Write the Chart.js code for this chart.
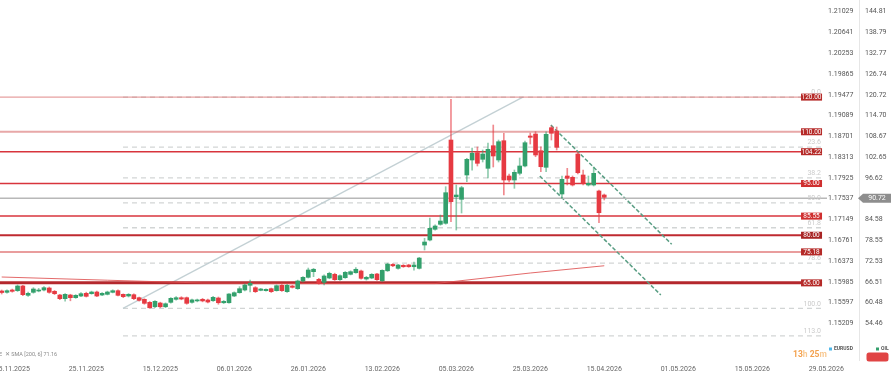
<!DOCTYPE html>
<html>
<head>
<meta charset="utf-8">
<script src="https://cdn.jsdelivr.net/npm/chart.js@4.4.1/dist/chart.umd.min.js"></script>
<style>
  html, body { margin: 0; padding: 0; background: #fff; }
  canvas { display: block; }
</style>
</head>
<body>
<canvas id="grafico-oil" width="896" height="380"></canvas>
<script>
// dados OIL (velas diarias)
const opens = [63.84, 63.46, 64.13, 63.93, 65.29, 62.59, 63.46, 63.84, 64.13, 64.71,
  63.75, 62.68, 61.61, 62.68, 61.90, 62.39, 63.17, 63.06, 63.55, 62.68,
  62.88, 63.46, 63.93, 62.88, 62.39, 62.77, 61.90, 61.43, 60.56, 59.28,
  60.36, 59.28, 60.56, 61.43, 61.90, 61.90, 60.56, 60.97, 61.43, 61.23,
  61.03, 61.81, 60.44, 60.44, 62.39, 63.35, 64.13, 65.49, 64.80, 64.04,
  63.93, 64.51, 63.93, 65.49, 63.64, 65.29, 64.51, 66.74, 67.81, 69.44,
  67.23, 66.36, 67.61, 68.68, 67.12, 67.70, 68.68, 69.14, 69.64, 67.32,
  67.61, 68.77, 66.82, 69.70, 71.55, 70.41, 71.29, 71.38, 70.88, 70.41,
  77.17, 78.62, 81.73, 83.17, 83.47, 107.61, 91.18, 90.42, 97.47, 101.82,
  103.93, 102.02, 99.41, 105.96, 101.82, 107.41, 97.18, 96.02, 97.96, 100.08,
  108.77, 109.35, 104.51, 99.70, 111.18, 110.22, 91.96, 97.18, 96.80, 103.56,
  97.47, 94.57, 94.57, 92.83, 91.67];
const highs = [64.13, 64.2, 64.4, 65.6, 65.5, 63.5, 64.8, 64.6, 65.1, 65.0,
  64.0, 62.9, 63.1, 62.9, 62.8, 63.4, 63.5, 63.8, 63.8, 63.4,
  63.8, 64.2, 64.2, 63.0, 63.1, 63.0, 62.1, 61.6, 60.8, 61.1,
  60.6, 60.4, 61.9, 62.2, 62.2, 62.1, 61.5, 61.5, 61.7, 61.5,
  62.3, 62.1, 61.1, 63.1, 63.6, 65.1, 65.9, 67.0, 65.1, 64.6,
  64.5, 64.7, 65.6, 65.7, 65.8, 65.5, 67.0, 68.0, 70.5, 70.4,
  67.5, 68.5, 69.3, 69.0, 68.5, 69.5, 69.7, 70.6, 69.9, 68.1,
  68.9, 69.0, 70.0, 71.9, 71.8, 71.6, 71.5, 71.6, 72.2, 73.6,
  79.12, 85.00, 83.0, 85.87, 94.08, 119.41, 94.57, 94.2, 102.3, 105.3,
  105.59, 104.72, 106.74, 111.96, 107.61, 109.56, 97.76, 98.92, 102.40, 107.32,
  109.64, 110.02, 105.67, 110.02, 111.67, 111.38, 97.18, 99.41, 97.18, 104.14,
  98.92, 97.18, 99.79, 93.12, 91.96];
const lows = [62.97, 63.2, 63.5, 63.7, 62.5, 62.3, 63.2, 63.6, 63.9, 63.2,
  62.8, 61.3, 60.9, 61.0, 61.7, 62.2, 62.1, 62.9, 62.2, 62.5,
  62.7, 63.3, 62.4, 61.9, 62.1, 61.3, 60.9, 60.0, 58.8, 59.0,
  59.0, 59.0, 60.3, 61.2, 61.3, 60.0, 60.3, 60.7, 60.7, 60.4,
  60.8, 60.0, 60.2, 60.3, 62.2, 63.2, 63.9, 63.6, 63.4, 63.9,
  63.8, 63.4, 63.8, 63.7, 63.4, 64.7, 64.3, 66.5, 67.6, 68.0,
  65.8, 65.6, 67.4, 66.9, 66.9, 67.5, 68.5, 69.0, 67.3, 67.0,
  67.4, 66.9, 66.6, 69.5, 70.9, 70.2, 70.7, 70.7, 69.9, 70.2,
  75.73, 78.33, 81.5, 82.9, 83.2, 83.93, 81.52, 86.45, 95.52, 98.9,
  100.08, 101.24, 96.60, 99.79, 101.24, 91.67, 95.44, 93.61, 97.47, 99.79,
  106.45, 102.77, 98.42, 98.42, 107.61, 104.72, 90.71, 94.57, 94.28, 97.76,
  94.57, 94.28, 94.28, 83.64, 90.22];
const closes = [63.40, 63.93, 63.75, 65.29, 62.77, 63.17, 64.42, 64.13, 64.80, 63.46,
  63.06, 61.61, 62.88, 61.90, 62.59, 63.06, 62.30, 63.55, 62.39, 63.17,
  63.55, 63.93, 62.59, 62.19, 62.88, 61.61, 61.14, 60.27, 58.99, 60.85,
  59.28, 60.15, 61.72, 61.90, 61.52, 60.27, 61.26, 61.26, 60.97, 60.65,
  62.01, 60.44, 60.85, 62.97, 63.35, 64.51, 65.58, 66.07, 63.64, 64.42,
  64.33, 63.64, 65.38, 63.93, 65.49, 64.91, 66.74, 67.81, 69.93, 70.14,
  66.07, 68.19, 68.97, 67.12, 68.28, 69.26, 69.44, 70.14, 67.52, 67.81,
  68.68, 67.12, 69.84, 71.64, 71.15, 71.38, 70.88, 70.88, 71.38, 73.39,
  78.04, 82.01, 82.68, 84.13, 92.34, 89.73, 91.67, 93.79, 102.02, 103.76,
  100.86, 103.56, 104.92, 102.98, 107.12, 96.02, 96.02, 98.25, 100.08, 106.83,
  108.40, 103.27, 99.87, 109.27, 109.56, 105.50, 96.22, 96.51, 94.57, 98.13,
  95.06, 95.06, 97.96, 86.54, 91.00];

// SMA 200
const smaIdx = [0, 20, 38, 60, 82, 100, 114];
const smaVal = [67.90, 66.97, 66.16, 66.0, 66.0, 69.06, 71.16];

// niveis horizontais
const levelValues = [120.05, 110.0, 104.22, 95.0, 85.55, 80.0, 75.18, 66.2];
const levelLabels = ['120.00', '110.00', '104.22', '95.00', '85.55', '80.00', '75.18', '65.00'];

// fibonacci
const fibPrices = [120.05, 105.56, 96.62, 89.4, 82.18, 71.9, 58.8, 50.84];
const fibLabels = ['0.0', '23.6', '38.2', '50.0', '61.8', '78.6', '100.0', '113.0'];
const fibDiag = [[22.95, 58.8], [98.6, 120.05]];

// canal de baixa
const chanUpper = [[103.9, 111.96], [126.76, 77.38]];
const chanLower = [[101.8, 97.18], [124.7, 62.68]];

const lastPrice = 90.72;

// eixos
const dateIdx = [2, 16, 30, 44, 58, 72, 86, 100, 114, 128, 142, 156];
const dateLabels = ['15.11.2025', '25.11.2025', '15.12.2025', '06.01.2026', '26.01.2026', '13.02.2026',
  '05.03.2026', '25.03.2026', '15.04.2026', '01.05.2026', '15.05.2026', '29.05.2026'];
const oilTicks = [144.81, 138.79, 132.77, 126.74, 120.72, 114.70, 108.67, 102.65, 96.62, 90.60,
  84.58, 78.55, 72.53, 66.51, 60.48, 54.46];
const eurTicks = ['1.21029', '1.20641', '1.20253', '1.19865', '1.19477', '1.19089', '1.18701', '1.18313',
  '1.17925', '1.17537', '1.17149', '1.16761', '1.16373', '1.15985', '1.15597', '1.15209'];

const GREEN = '#33a06c';
const RED = '#e63a42';
const lineEnd = 155.2;   // fim das linhas horizontais (antes da escala)

Chart.defaults.font.family = 'Roboto, "Noto Sans", sans-serif';

const levelColors = ['rgba(214,96,96,0.6)', 'rgba(214,96,96,0.55)', '#d8343c', '#d8343c',
  '#d8343c', '#bf2a30', 'rgba(214,70,70,0.7)', '#b4282d'];
const levelWidths = [1.2, 2, 1.5, 1.5, 1.5, 1.8, 1.5, 3];
const boxColors = ['#b52a28', '#b52a28', '#b52a28', '#cf2f2f', '#cf2f2f', '#a82424', '#b52a28', '#b52a28'];

function seg(points, color, width, dash, order) {
  return {
    type: 'line',
    data: points.map(p => ({x: p[0], y: p[1]})),
    borderColor: color,
    borderWidth: width,
    borderDash: dash || [],
    pointRadius: 0,
    tension: 0,
    order: order
  };
}

const datasets = [];

// velas
const isUp = opens.map((o, i) => closes[i] >= o);
datasets.push({
  type: 'bar',
  data: opens.map((o, i) => ({x: i, y: [o, closes[i]]})),
  backgroundColor: isUp.map(u => u ? GREEN : RED),
  barThickness: 4,
  minBarLength: 1,
  grouped: false,
  order: 0
});
datasets.push({
  type: 'bar',
  data: lows.map((l, i) => ({x: i, y: [l, highs[i]]})),
  backgroundColor: isUp.map(u => u ? 'rgba(51,160,108,0.55)' : 'rgba(230,58,66,0.6)'),
  barThickness: 1,
  grouped: false,
  order: 1
});

// SMA
datasets.push(seg(smaIdx.map((x, i) => [x, smaVal[i]]), 'rgba(222,80,80,0.85)', 1, null, 2));
// preco atual
datasets.push(seg([[-1, lastPrice], [158, lastPrice]], '#b8b8b8', 1.5, null, 3));
// canal
datasets.push(seg(chanUpper, '#5a9e84', 1.5, [4, 2], 4));
datasets.push(seg(chanLower, '#5a9e84', 1.5, [4, 2], 4));
// niveis
levelValues.forEach((v, i) => {
  datasets.push(seg([[-1, v], [lineEnd, v]], levelColors[i], levelWidths[i], null, 5));
});
// fibo
datasets.push(seg(fibDiag, 'rgba(192,206,210,0.95)', 1.3, null, 6));
fibPrices.forEach(p => {
  datasets.push(seg([[fibDiag[0][0], p], [lineEnd, p]], 'rgba(205,208,208,0.9)', 1.3, [5, 4], 7));
});

const overlay = {
  id: 'overlay',
  afterDraw(chart) {
    const c = chart.ctx;
    const y = chart.scales.y;
    const xEnd = chart.scales.x.getPixelForValue(lineEnd);
    c.save();
    c.textBaseline = 'middle';

    // rotulos fibo
    c.font = '7px Roboto';
    c.fillStyle = '#cbcbcb';
    c.textAlign = 'right';
    fibPrices.forEach((p, i) => c.fillText(fibLabels[i], xEnd - 1, y.getPixelForValue(p) - 4.5));

    // caixas dos niveis
    c.textAlign = 'center';
    c.font = '6.5px Roboto';
    levelValues.forEach((v, i) => {
      const py = y.getPixelForValue(v);
      c.fillStyle = boxColors[i];
      c.fillRect(xEnd - 21, py - 3.5, 21, 7);
      c.fillStyle = '#fff';
      c.fillText(levelLabels[i], xEnd - 10.5, py + 0.3);
    });

    // etiqueta do preco
    const py = y.getPixelForValue(lastPrice);
    c.fillStyle = '#8e8e8e';
    c.beginPath();
    c.moveTo(858, py);
    c.lineTo(863, py - 4.5);
    c.lineTo(891, py - 4.5);
    c.lineTo(891, py + 4.5);
    c.lineTo(863, py + 4.5);
    c.closePath();
    c.fill();
    c.fillStyle = '#fff';
    c.font = '7px Roboto';
    c.fillText(lastPrice.toFixed(2), 877, py + 0.3);

    // legenda SMA
    c.textAlign = 'left';
    c.font = '5.5px Roboto';
    c.fillStyle = '#8a8a8a';
    c.fillText('E  \u2715 SMA [200, 6] 71.16', -1, 354.5);

    // contador
    c.font = 'bold 8.5px Roboto';
    let tx = 793;
    [['13', '#f3a04c'], ['h ', '#f8c992'], ['25', '#f3a04c'], ['m', '#f8c992']].forEach(t => {
      c.fillStyle = t[1];
      c.fillText(t[0], tx, 354.5);
      tx += c.measureText(t[0]).width;
    });

    // legenda simbolos
    c.fillStyle = '#4fb8ea';
    c.fillRect(829, 347.5, 3, 3);
    c.fillStyle = GREEN;
    c.fillRect(876, 347.5, 3, 3);
    c.fillStyle = '#555';
    c.font = 'bold 5px Roboto';
    c.fillText('EURUSD', 834, 349);
    c.fillText('OIL', 881, 349);

    // botao
    c.fillStyle = '#e04444';
    c.beginPath();
    c.roundRect(866.5, 352.5, 22, 9, 2.5);
    c.fill();
    c.restore();
  }
};

function noPad(s) {
  s.paddingLeft = 0; s.paddingRight = 0; s.paddingTop = 0; s.paddingBottom = 0;
}

new Chart(ctx1 = document.getElementById('grafico-oil').getContext('2d'), {
  type: 'bar',
  data: { datasets: datasets },
  options: {
    responsive: false,
    animation: false,
    devicePixelRatio: 1,
    events: [],
    layout: { padding: 0 },
    plugins: {
      legend: { display: false },
      tooltip: { enabled: false }
    },
    scales: {
      x: {
        type: 'linear',
        min: -0.32,
        max: 156.14,
        offset: false,
        grid: { display: false, drawTicks: false },
        border: { display: false },
        afterBuildTicks: s => { s.ticks = dateIdx.map(v => ({value: v})); },
        afterFit: s => { s.height = 20; noPad(s); },
        ticks: {
          autoSkip: false,
          maxRotation: 0,
          padding: 5,
          color: '#666',
          font: { size: 7 },
          callback: v => dateLabels[dateIdx.indexOf(v)]
        }
      },
      y: {
        type: 'linear',
        position: 'right',
        weight: 1,
        min: 43.84,
        max: 148.20,
        grid: { display: false, drawTicks: false },
        border: { display: true, color: '#e6e6e6' },
        afterBuildTicks: s => { s.ticks = oilTicks.map(v => ({value: v})); },
        afterFit: s => { s.width = 37; noPad(s); },
        ticks: {
          autoSkip: false,
          padding: 6,
          color: '#555',
          font: { size: 7 },
          callback: v => v.toFixed(2)
        }
      },
      y2: {
        type: 'linear',
        axis: 'y',
        position: 'right',
        weight: 0,
        min: 43.84,
        max: 148.20,
        grid: { display: false, drawTicks: false },
        border: { display: false },
        afterBuildTicks: s => { s.ticks = oilTicks.map(v => ({value: v})); },
        afterFit: s => { s.width = 32; noPad(s); },
        ticks: {
          autoSkip: false,
          padding: 1,
          color: '#555',
          font: { size: 7 },
          callback: (v, i) => eurTicks[i]
        }
      }
    }
  },
  plugins: [overlay]
});
//FIM grafico-oil
</script>
</body>
</html>
